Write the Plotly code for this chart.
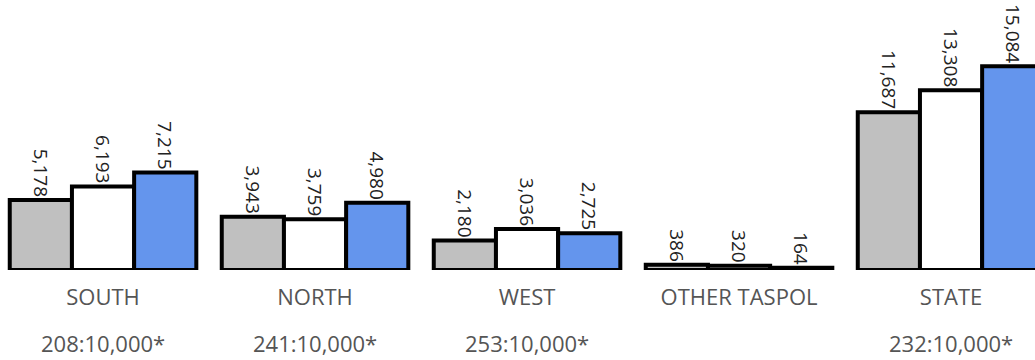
import plotly.graph_objects as go

categories = ["SOUTH", "NORTH", "WEST", "OTHER TASPOL", "STATE"]
ratios = ["208:10,000*", "241:10,000*", "253:10,000*", "", "232:10,000*"]
series_gray = [5178, 3943, 2180, 386, 11687]
series_white = [6193, 3759, 3036, 320, 13308]
series_blue = [7215, 4980, 2725, 164, 15084]

colors = ["#c0c0c0", "#ffffff", "#6495ed"]
series = [series_gray, series_white, series_blue]
names = ["A", "B", "C"]

fig = go.Figure()
for vals, col, nm in zip(series, colors, names):
    fig.add_trace(go.Bar(
        x=categories, y=vals, name=nm,
        marker=dict(color=col, line=dict(color="#000000", width=4)),
        text=[f"{v:,}" for v in vals],
        textposition="outside", textangle=90,
        textfont=dict(family="Open Sans", size=19, color="#222222"),
        cliponaxis=False,
    ))

for c, r in zip(categories, ratios):
    if r:
        fig.add_annotation(x=c, y=-0.27, xref="x", yref="paper", text=r,
                           showarrow=False, yanchor="middle",
                           font=dict(family="Open Sans", size=22, color="#555555"))

fig.update_layout(
    width=1035, height=360,
    margin=dict(l=0, r=0, t=0, b=90),
    barmode="group", bargap=0.12, bargroupgap=0,
    showlegend=False,
    plot_bgcolor="white", paper_bgcolor="white",
)
fig.update_xaxes(range=[-0.486, 4.396], showgrid=False, showline=False,
                 zeroline=False, ticks="", ticklabelstandoff=12,
                 tickfont=dict(family="Open Sans", size=22, color="#555555"))
fig.update_yaxes(range=[0, 20000], visible=False, showgrid=False)

fig.write_html("out.html", config={"displayModeBar": False},
               post_script="document.body.style.margin='0px';")
